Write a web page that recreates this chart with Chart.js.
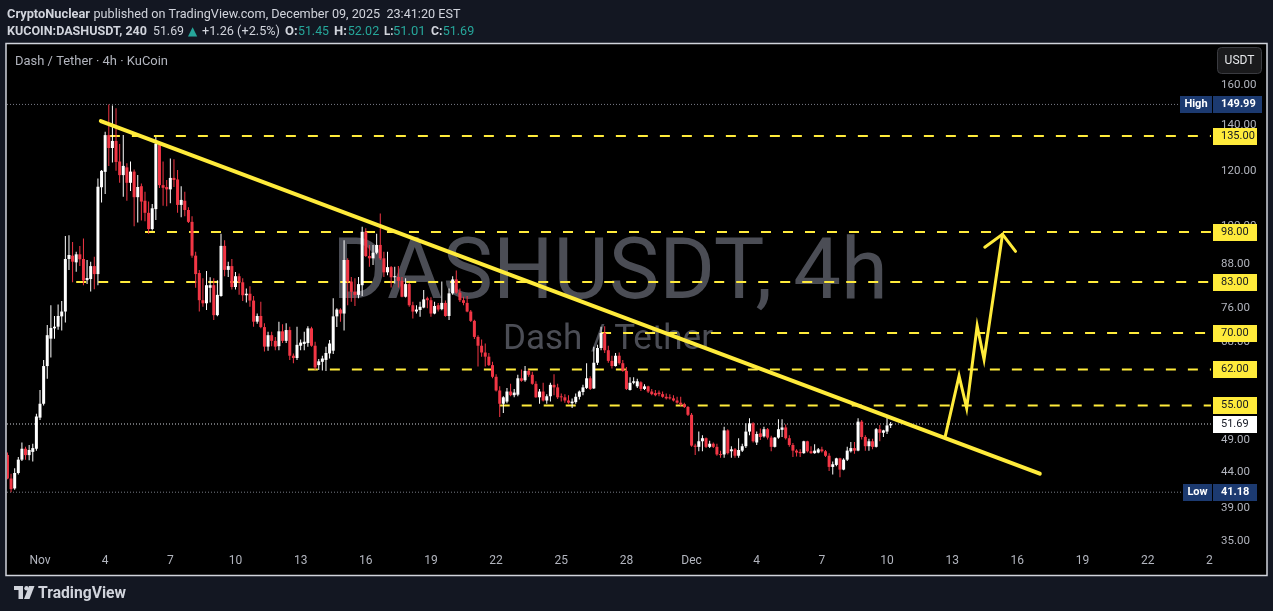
<!DOCTYPE html>
<html><head><meta charset="utf-8">
<script src="https://cdn.jsdelivr.net/npm/chart.js@4.4.1/dist/chart.umd.min.js"></script>
<style>html,body{margin:0;padding:0;background:#131722;overflow:hidden}canvas{display:block}</style>
</head><body>
<canvas id="c" width="1273" height="611"></canvas>
<script>
// ---- DATA (4h candles, KUCOIN:DASHUSDT, first candle 2025-10-30 12:00 UTC, step 4h) ----
const candleOpen = [46.6,43.1,41.7,43.9,45.9,47.6,46.6,47.1,47.6,52.8,
55.3,62.7,68.7,71.1,71.5,74.0,75.2,89.6,90.6,88.6,
91.0,89.6,83.5,83.8,87.5,85.2,113.8,119.8,135.4,129.7,
132.8,124.0,118.5,121.6,115.5,119.9,110.1,114.2,108.8,104.5,
99.0,105.8,131.0,114.6,113.9,113.0,117.4,116.8,107.3,108.8,
105.5,101.4,90.6,85.5,78.1,77.3,81.4,82.1,74.3,79.2,
93.6,86.4,87.5,81.6,84.6,82.9,79.4,79.8,78.0,72.7,
74.1,71.4,66.9,69.5,68.2,67.0,70.4,68.2,70.7,64.9,
64.4,67.1,67.5,67.7,71.1,67.1,62.9,63.6,64.0,65.4,
66.0,74.0,75.7,74.7,89.3,83.1,80.3,79.5,82.1,98.1,
90.5,89.8,91.5,93.9,89.8,85.7,87.2,84.3,84.4,83.3,
79.0,82.4,76.8,75.2,75.6,76.2,78.6,78.1,74.7,76.8,
75.8,77.4,74.1,79.9,83.7,80.1,78.1,77.4,75.2,72.9,
69.1,67.1,65.6,64.7,62.9,60.5,57.8,55.3,55.7,57.6,
56.9,57.0,60.2,59.8,61.7,60.9,59.1,56.5,57.6,55.9,
56.7,58.9,58.4,56.6,56.5,55.9,55.4,55.6,56.6,57.5,
58.3,60.2,58.2,63.4,66.6,70.0,66.1,63.8,62.7,64.9,
63.3,61.7,57.9,59.3,58.6,59.4,58.1,58.6,57.6,57.3,
57.4,57.1,56.6,56.5,56.3,55.9,55.5,55.2,54.7,53.3,
48.1,47.9,48.8,49.3,47.9,48.4,47.9,46.7,46.7,50.6,
47.2,47.5,46.5,47.3,48.0,50.4,51.8,48.6,50.1,49.6,
50.8,49.4,47.9,49.4,50.7,51.1,49.3,48.2,47.3,47.1,
46.9,48.8,47.2,46.9,47.0,47.5,47.2,46.5,44.8,45.1,
46.1,44.4,45.9,47.2,47.7,47.3,52.1,49.5,48.0,48.8,
47.9,50.8,50.2,50.4,51.45];
const candleHigh = [47.0,43.8,44.6,46.3,48.6,47.9,48.2,48.4,53.5,57.9,
64.0,71.9,76.8,74.1,77.0,77.9,96.7,97.0,94.8,91.8,
93.6,95.9,89.3,88.8,90.3,117.2,120.5,136.9,149.99,149.5,
148.1,131.4,135.4,123.3,124.0,120.7,118.5,115.2,112.1,108.5,
107.6,134.6,132.5,124.0,116.6,125.3,124.9,120.5,114.2,112.1,
106.5,103.3,91.8,86.4,84.0,86.1,84.3,84.0,83.5,97.5,
95.4,88.8,89.6,85.8,85.4,84.0,81.2,81.8,79.2,74.7,
77.7,72.3,70.3,70.3,69.1,72.7,72.1,72.3,71.5,65.4,
71.5,68.5,70.3,71.6,71.5,68.0,64.2,64.9,66.9,68.4,
78.6,76.0,76.0,95.4,89.8,84.4,84.0,84.4,99.8,99.3,
93.9,93.9,97.5,104.3,91.8,91.8,87.5,87.3,87.5,84.4,
84.0,82.7,77.7,76.8,77.7,80.8,79.0,78.9,77.7,77.4,
83.1,78.0,81.2,84.6,86.2,81.2,79.0,79.2,75.6,73.2,
69.5,68.5,67.6,65.5,63.6,61.0,58.6,56.7,58.3,59.1,
58.1,60.9,62.0,62.7,62.0,61.5,59.6,58.1,59.3,57.1,
59.3,61.0,59.1,57.2,57.1,56.9,56.3,57.2,57.8,58.9,
63.3,60.6,66.9,67.3,71.5,71.6,67.1,64.9,65.5,65.6,
64.0,62.5,60.4,60.4,60.1,59.6,59.0,58.7,58.1,57.9,
57.8,57.6,57.2,57.1,56.9,56.6,56.6,55.5,54.9,53.6,
48.4,50.4,49.8,49.4,48.9,48.6,48.4,47.3,51.2,50.8,
48.0,47.7,49.3,48.4,51.8,52.7,52.0,50.4,50.9,51.2,
51.0,49.7,49.5,52.5,52.5,51.6,49.8,48.5,47.5,47.5,
48.9,48.9,48.0,48.3,47.7,47.9,47.4,46.9,45.6,46.2,
46.2,46.1,47.9,48.7,48.7,52.7,52.4,49.8,49.2,49.2,
51.0,51.5,50.7,53.1,52.02];
const candleLow = [43.0,41.18,41.5,43.7,45.7,45.9,45.8,45.6,47.3,52.4,
55.0,60.1,64.5,68.7,70.8,70.6,72.5,86.4,82.9,85.9,
87.5,82.1,82.4,80.4,81.0,82.1,108.2,111.3,122.2,123.6,
120.2,115.5,110.3,108.8,112.4,99.9,101.2,101.9,101.6,97.5,
98.5,102.0,113.5,107.0,106.8,107.9,113.9,104.5,103.0,103.3,
101.0,90.0,81.4,75.2,76.4,75.6,77.5,73.1,74.0,79.0,
84.6,84.4,80.9,80.9,79.5,77.9,77.5,76.4,71.5,72.2,
71.1,65.8,66.0,67.0,66.1,66.1,67.7,67.7,64.0,63.3,
64.0,66.1,66.1,66.9,66.9,61.9,61.9,61.8,61.7,64.3,
65.3,71.4,72.7,70.6,76.8,77.7,76.6,78.6,79.2,90.2,
87.3,87.8,91.0,89.3,84.4,84.9,81.5,82.6,81.5,78.9,
78.8,76.4,73.5,74.7,73.9,76.0,76.0,73.9,74.5,75.2,
75.5,73.9,73.1,79.5,79.8,77.6,76.8,75.0,72.6,68.6,
62.6,64.7,62.6,62.7,60.2,57.6,52.9,53.6,55.4,56.7,
56.5,56.7,59.5,59.5,60.5,58.9,56.4,55.3,55.7,55.3,
55.7,56.9,56.2,55.7,55.5,55.3,54.5,55.3,56.1,56.9,
58.1,57.9,58.1,62.9,66.1,65.5,63.4,62.2,62.6,63.0,
61.5,57.9,57.8,59.0,58.3,57.7,57.9,57.3,56.9,56.7,
56.7,56.4,56.1,56.1,55.7,55.3,54.9,54.5,53.1,47.9,
46.6,47.2,47.2,47.7,47.7,47.7,46.5,46.2,46.2,46.7,
46.2,46.2,46.2,47.1,47.7,49.8,48.6,48.2,49.0,49.4,
49.1,47.2,47.8,49.2,49.5,49.1,47.9,46.3,46.4,46.3,
46.8,47.0,46.8,46.8,46.9,47.0,46.3,44.2,43.7,44.9,
43.3,44.3,45.7,47.0,46.8,47.2,49.1,47.3,47.3,47.5,
47.8,48.8,49.5,50.0,51.01];
const candleClose = [43.1,41.6,43.9,45.9,47.6,46.6,47.4,47.7,53.0,55.3,
62.7,69.5,71.2,71.5,74.1,75.2,89.6,90.8,88.8,91.0,
89.5,83.4,84.1,87.5,85.2,114.0,120.2,135.4,129.7,132.8,
123.8,118.5,122.2,115.5,119.9,110.1,113.9,108.5,104.5,99.0,
106.1,131.6,114.6,113.6,113.0,117.4,116.6,107.3,109.1,105.5,
101.4,90.6,85.2,78.1,77.3,82.1,82.1,74.3,79.5,93.6,
86.4,87.5,81.6,84.6,82.9,79.4,79.8,78.0,72.7,74.1,
71.4,66.9,69.5,68.2,66.9,70.4,68.2,70.7,64.9,64.4,
67.3,67.8,68.0,71.1,67.1,62.4,63.7,64.3,65.5,67.6,
74.0,75.7,74.7,89.3,83.1,80.3,79.5,82.4,98.1,90.5,
89.8,91.5,93.9,89.8,85.7,87.2,84.3,84.4,83.3,79.0,
82.4,76.8,75.2,75.7,76.4,78.3,78.1,74.7,76.6,75.7,
77.4,74.1,79.9,83.7,80.1,78.1,77.4,75.2,72.9,69.1,
67.1,65.6,64.7,62.9,60.5,57.8,55.3,56.5,57.6,56.9,
57.4,60.2,59.7,61.7,60.9,59.1,56.5,57.6,55.9,56.7,
58.9,58.4,56.5,56.5,55.9,55.5,55.7,56.6,57.6,58.4,
60.2,58.1,63.4,66.6,70.0,66.1,63.8,62.7,64.9,63.3,
61.7,58.1,59.3,59.6,59.6,58.1,58.6,57.6,57.1,56.9,
57.1,56.6,56.3,56.3,55.9,55.5,55.2,54.7,53.3,48.1,
47.9,48.8,49.3,47.9,48.4,47.9,46.7,46.6,50.6,46.9,
47.5,46.5,47.4,48.0,50.4,51.8,48.8,50.0,49.5,50.8,
49.4,47.9,49.4,50.8,51.1,49.3,48.2,47.3,47.0,46.9,
48.8,47.2,46.9,47.3,47.5,47.2,46.5,44.8,45.2,46.1,
44.4,45.9,47.3,47.7,47.3,52.1,49.5,48.0,48.8,47.9,
50.8,50.2,50.6,51.45,51.69];

// time axis: candle index of each labelled day (6 candles per day)
const timeTickIndex  = [9,27,45,63,81,99,117,135,153,171,189,207,225,243,261,279,297,315,333];
const timeTickLabels = ['Nov','4','7','10','13','16','19','22','25','28','Dec','4','7','10','13','16','19','22','25'];
// price axis (log)
const priceTicks = [160,140,120,100,88,76,68,61,55,49,44,39,35];
const xRange = [-0.12, 332.5];
const yRange = [34.19, 184.07];
// horizontal support/resistance levels and the candle index where each begins
const levelValues = [135, 98, 83, 70, 62, 55];
const levelStartIndex = [28.3, 38, 19, 164, 83, 136];
// trendline and projected path (candle index, price)
const trendIndex = [25.8, 285.2];
const trendPrice = [141.9, 43.8];
const pathIndex = [259.0, 262.9, 265.0, 267.9, 269.8, 274.9];
const pathPrice = [49.4, 60.7, 54.5, 71.7, 64.1, 97.3];
const headIndex = [270.0, 274.9, 278.5];
const headPrice = [93.2, 97.3, 91.9];
const highValue = 149.99, lowValue = 41.18, lastValue = 51.69;

// ---- build datasets ----
const UP = '#ffffff', DOWN = '#f23645', YEL = '#ffeb3b';
const idx = candleOpen.map((_, i) => i);
const colors = idx.map(i => candleClose[i] >= candleOpen[i] ? UP : DOWN);
const pts = (xs, ys) => xs.map((x, k) => ({x, y: ys[k]}));
const hline = (v, x0, color, dash, w, order) => ({
  type: 'line', data: [{x: x0, y: v}, {x: xRange[1], y: v}], borderColor: color,
  borderWidth: w, borderDash: dash, pointRadius: 0, fill: false, order
});

const datasets = [];
levelValues.forEach((v, k) => datasets.push(hline(v, levelStartIndex[k], YEL, [10, 12], 2, 10)));
datasets.push(hline(highValue, xRange[0], '#787b86', [1, 2], 1, 9));
datasets.push(hline(lowValue, xRange[0], '#787b86', [1, 2], 1, 9));
datasets.push(hline(lastValue, xRange[0], '#d1d4dc', [1, 2], 1, 9));
datasets.push({
  type: 'bar', data: idx.map(i => ({x: i, y: [candleLow[i], candleHigh[i]]})),
  backgroundColor: colors, barThickness: 1, grouped: false, inflateAmount: 0, borderWidth: 0, order: 4
});
datasets.push({
  type: 'bar', data: idx.map(i => ({x: i, y: [Math.min(candleOpen[i], candleClose[i]), Math.max(candleOpen[i], candleClose[i])]})),
  backgroundColor: colors, barThickness: 3, minBarLength: 1, grouped: false, inflateAmount: 0, borderWidth: 0, order: 3
});
datasets.push({type: 'line', data: pts(trendIndex, trendPrice), borderColor: YEL, borderWidth: 4,
  borderCapStyle: 'round', pointRadius: 0, fill: false, order: 1});
datasets.push({type: 'line', data: pts(pathIndex, pathPrice), borderColor: YEL, borderWidth: 3,
  borderJoinStyle: 'miter', borderCapStyle: 'round', pointRadius: 0, fill: false, order: 0});
datasets.push({type: 'line', data: pts(headIndex, headPrice), borderColor: YEL, borderWidth: 3,
  borderJoinStyle: 'miter', borderCapStyle: 'round', pointRadius: 0, fill: false, order: 0});

const FONT = 'Roboto, "Noto Sans", "DejaVu Sans", sans-serif';
const LABEL_X = 1221;

function seg(ctx, text, x, y, w, font, color) {
  ctx.font = font; ctx.fillStyle = color; ctx.fillText(text, x, y, w);
}
function box(ctx, x0, x1, y, bg, text, fg, font, align) {
  const yc = Math.round(y);
  ctx.fillStyle = bg; ctx.fillRect(x0, yc - 8, x1 - x0, 17);
  ctx.font = font; ctx.fillStyle = fg; ctx.textBaseline = 'middle';
  if (align === 'center') { ctx.textAlign = 'center'; ctx.fillText(text, (x0 + x1) / 2, yc + 0.5); }
  else { ctx.textAlign = 'left'; ctx.fillText(text, LABEL_X, yc + 0.5); }
}

const decor = {
  id: 'decor',
  beforeDraw(chart) {
    const ctx = chart.ctx;
    ctx.save();
    ctx.fillStyle = '#131722'; ctx.fillRect(0, 0, 1273, 611);
    ctx.fillStyle = '#000000'; ctx.fillRect(6, 43, 1261, 532);
    ctx.strokeStyle = '#d1d4dc'; ctx.lineWidth = 1.5; ctx.strokeRect(6, 43.5, 1261, 532);
    ctx.textAlign = 'left'; ctx.textBaseline = 'alphabetic';
    const TX = '#d1d4dc', GR = '#26a69a';
    seg(ctx, 'CryptoNuclear', 7, 18, 83, 'bold 13px ' + FONT, TX);
    seg(ctx, 'published on TradingView.com, December 09, 2025  23:41:20 EST', 93.5, 18, 367, '13px ' + FONT, TX);
    seg(ctx, 'KUCOIN:DASHUSDT, 240', 7, 34.5, 140, 'bold 13px ' + FONT, TX);
    seg(ctx, '51.69', 153, 34.5, 31, '13px ' + FONT, TX);
    seg(ctx, '\u25B2', 188, 34.5, 11, '12px "DejaVu Sans", sans-serif', GR);
    seg(ctx, '+1.26 (+2.5%)', 202, 34.5, 78, '13px ' + FONT, TX);
    seg(ctx, 'O:', 285, 34.5, 13, 'bold 13px ' + FONT, TX);
    seg(ctx, '51.45', 298, 34.5, 31, '13px ' + FONT, GR);
    seg(ctx, 'H:', 334, 34.5, 13.5, 'bold 13px ' + FONT, TX);
    seg(ctx, '52.02', 347.7, 34.5, 31.5, '13px ' + FONT, GR);
    seg(ctx, 'L:', 384, 34.5, 9.5, 'bold 13px ' + FONT, TX);
    seg(ctx, '51.01', 393, 34.5, 33, '13px ' + FONT, GR);
    seg(ctx, 'C:', 431, 34.5, 11.5, 'bold 13px ' + FONT, TX);
    seg(ctx, '51.69', 442.7, 34.5, 31.5, '13px ' + FONT, GR);
    ctx.restore();
  },
  beforeDatasetsDraw(chart) {
    const ctx = chart.ctx;
    ctx.save();
    ctx.fillStyle = '#4b4d55'; ctx.textAlign = 'center'; ctx.textBaseline = 'alphabetic';
    ctx.font = '85px ' + FONT; ctx.fillText('DASHUSDT, 4h', 610, 298);
    ctx.font = '35px ' + FONT; ctx.fillText('Dash / Tether', 608, 348.5);
    ctx.textAlign = 'left';
    seg(ctx, 'Dash / Tether \u00B7 4h \u00B7 KuCoin', 15, 65, 153, '13px ' + FONT, '#b2b5be');
    ctx.restore();
  },
  afterDraw(chart) {
    const ctx = chart.ctx, xs = chart.scales.x, ys = chart.scales.y;
    ctx.save();
    // time axis labels (clipped at the price axis)
    ctx.beginPath(); ctx.rect(7, 548, 1206, 27); ctx.clip();
    ctx.font = '12px ' + FONT; ctx.fillStyle = '#b2b5be'; ctx.textAlign = 'center'; ctx.textBaseline = 'middle';
    timeTickIndex.forEach((v, k) => ctx.fillText(timeTickLabels[k], xs.getPixelForValue(v), 561));
    ctx.restore();
    ctx.save();
    const bf = 'bold 11px ' + FONT, nf = '11px ' + FONT;
    levelValues.forEach(v => box(ctx, 1213, 1257, ys.getPixelForValue(v), YEL, v.toFixed(2), '#131722', nf));
    const yh = ys.getPixelForValue(highValue);
    box(ctx, 1180, 1212, yh, '#1c3a70', 'High', '#ffffff', bf, 'center');
    box(ctx, 1213, 1262, yh, '#1c3a70', highValue.toFixed(2), '#ffffff', bf);
    const yl = ys.getPixelForValue(lowValue);
    box(ctx, 1183, 1212, yl, '#1c3a70', 'Low', '#ffffff', bf, 'center');
    box(ctx, 1213, 1257, yl, '#1c3a70', lowValue.toFixed(2), '#ffffff', bf);
    box(ctx, 1213, 1257, ys.getPixelForValue(lastValue), '#ffffff', lastValue.toFixed(2), '#131722', nf);
    // USDT button
    ctx.fillStyle = '#1a1a1c'; ctx.strokeStyle = '#3a3b40'; ctx.lineWidth = 1;
    ctx.beginPath(); ctx.roundRect(1217.5, 47.5, 44, 26, 4); ctx.fill(); ctx.stroke();
    ctx.fillStyle = '#e6e7ea'; ctx.font = '12px ' + FONT; ctx.textAlign = 'center'; ctx.textBaseline = 'middle';
    ctx.fillText('USDT', 1239.5, 61);
    // footer logo
    ctx.fillStyle = '#d1d4dc';
    ctx.fillRect(14, 586, 9, 4); ctx.fillRect(18.5, 586, 4.5, 13);
    ctx.beginPath(); ctx.arc(26.5, 588.2, 2.2, 0, Math.PI * 2); ctx.fill();
    ctx.beginPath(); ctx.moveTo(29, 586); ctx.lineTo(34.5, 586); ctx.lineTo(29.5, 599); ctx.lineTo(24, 599); ctx.closePath(); ctx.fill();
    ctx.font = 'bold 16px ' + FONT; ctx.textAlign = 'left'; ctx.textBaseline = 'alphabetic';
    ctx.fillText('TradingView', 38, 598, 88);
    ctx.restore();
  }
};

new Chart(document.getElementById('c').getContext('2d'), {
  type: 'bar',
  data: {datasets},
  options: {
    responsive: false, animation: false, devicePixelRatio: 1, events: [],
    layout: {padding: {left: 7, top: 43, right: 6, bottom: 63}},
    plugins: {legend: {display: false}, tooltip: {enabled: false}},
    scales: {
      x: {type: 'linear', display: false, min: xRange[0], max: xRange[1], bounds: 'data', offset: false},
      y: {type: 'logarithmic', position: 'right', min: yRange[0], max: yRange[1], bounds: 'data',
        grid: {display: false, drawTicks: false}, border: {display: false},
        afterBuildTicks: s => { s.ticks = priceTicks.map(v => ({value: v})); },
        afterFit: s => { s.width = 56; },
        ticks: {autoSkip: false, color: '#b2b5be', font: {family: FONT, size: 11.5}, padding: 10,
          crossAlign: 'near', callback: v => Number(v).toFixed(2)}}
    }
  },
  plugins: [decor]
});
</script>
</body></html>
